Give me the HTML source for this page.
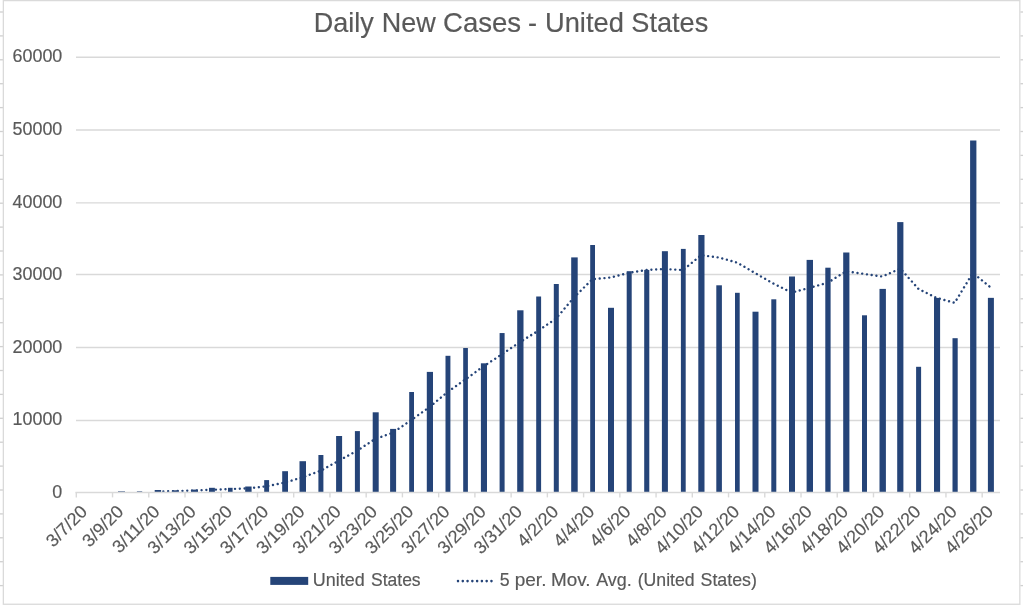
<!DOCTYPE html>
<html lang="en"><head><meta charset="utf-8"><title>Daily New Cases - United States</title>
<style>
html,body{margin:0;padding:0;background:#fff;}
body{width:1023px;height:605px;overflow:hidden;}
svg{display:block;}
text{font-family:"Liberation Sans",sans-serif;fill:#595959;stroke:#595959;stroke-width:0.18px;}
.ax{font-size:17.9px;}
.title{font-size:28px;}
</style></head><body>
<svg width="1023" height="605" viewBox="0 0 1023 605" role="img" aria-label="Daily New Cases - United States">
<rect x="0" y="0" width="1023" height="605" fill="#ffffff"/>
<g fill="#d0d0d0">
<rect x="0" y="11.35" width="3.2" height="1.3"/>
<rect x="1020.3" y="11.35" width="2.7" height="1.3"/>
<rect x="0" y="35.25" width="3.2" height="1.3"/>
<rect x="1020.3" y="35.25" width="2.7" height="1.3"/>
<rect x="0" y="59.15" width="3.2" height="1.3"/>
<rect x="1020.3" y="59.15" width="2.7" height="1.3"/>
<rect x="0" y="83.05" width="3.2" height="1.3"/>
<rect x="1020.3" y="83.05" width="2.7" height="1.3"/>
<rect x="0" y="106.95" width="3.2" height="1.3"/>
<rect x="1020.3" y="106.95" width="2.7" height="1.3"/>
<rect x="0" y="130.85" width="3.2" height="1.3"/>
<rect x="1020.3" y="130.85" width="2.7" height="1.3"/>
<rect x="0" y="154.75" width="3.2" height="1.3"/>
<rect x="1020.3" y="154.75" width="2.7" height="1.3"/>
<rect x="0" y="178.65" width="3.2" height="1.3"/>
<rect x="1020.3" y="178.65" width="2.7" height="1.3"/>
<rect x="0" y="202.55" width="3.2" height="1.3"/>
<rect x="1020.3" y="202.55" width="2.7" height="1.3"/>
<rect x="0" y="226.45" width="3.2" height="1.3"/>
<rect x="1020.3" y="226.45" width="2.7" height="1.3"/>
<rect x="0" y="250.35" width="3.2" height="1.3"/>
<rect x="1020.3" y="250.35" width="2.7" height="1.3"/>
<rect x="0" y="274.25" width="3.2" height="1.3"/>
<rect x="1020.3" y="274.25" width="2.7" height="1.3"/>
<rect x="0" y="298.15" width="3.2" height="1.3"/>
<rect x="1020.3" y="298.15" width="2.7" height="1.3"/>
<rect x="0" y="322.05" width="3.2" height="1.3"/>
<rect x="1020.3" y="322.05" width="2.7" height="1.3"/>
<rect x="0" y="345.95" width="3.2" height="1.3"/>
<rect x="1020.3" y="345.95" width="2.7" height="1.3"/>
<rect x="0" y="369.85" width="3.2" height="1.3"/>
<rect x="1020.3" y="369.85" width="2.7" height="1.3"/>
<rect x="0" y="393.75" width="3.2" height="1.3"/>
<rect x="1020.3" y="393.75" width="2.7" height="1.3"/>
<rect x="0" y="417.65" width="3.2" height="1.3"/>
<rect x="1020.3" y="417.65" width="2.7" height="1.3"/>
<rect x="0" y="441.55" width="3.2" height="1.3"/>
<rect x="1020.3" y="441.55" width="2.7" height="1.3"/>
<rect x="0" y="465.45" width="3.2" height="1.3"/>
<rect x="1020.3" y="465.45" width="2.7" height="1.3"/>
<rect x="0" y="489.35" width="3.2" height="1.3"/>
<rect x="1020.3" y="489.35" width="2.7" height="1.3"/>
<rect x="0" y="513.25" width="3.2" height="1.3"/>
<rect x="1020.3" y="513.25" width="2.7" height="1.3"/>
<rect x="0" y="537.15" width="3.2" height="1.3"/>
<rect x="1020.3" y="537.15" width="2.7" height="1.3"/>
<rect x="0" y="561.05" width="3.2" height="1.3"/>
<rect x="1020.3" y="561.05" width="2.7" height="1.3"/>
<rect x="0" y="584.95" width="3.2" height="1.3"/>
<rect x="1020.3" y="584.95" width="2.7" height="1.3"/>
<rect x="0" y="608.85" width="3.2" height="1.3"/>
<rect x="1020.3" y="608.85" width="2.7" height="1.3"/>
</g>
<rect x="3.35" y="0.6" width="1016.5" height="603.65" fill="#ffffff" stroke="#dadada" stroke-width="1.3"/>
<g stroke="#d9d9d9" stroke-width="1.4">
<line x1="76.0" y1="420.50" x2="1000.0" y2="420.50"/>
<line x1="76.0" y1="347.50" x2="1000.0" y2="347.50"/>
<line x1="76.0" y1="274.50" x2="1000.0" y2="274.50"/>
<line x1="76.0" y1="202.90" x2="1000.0" y2="202.90"/>
<line x1="76.0" y1="130.00" x2="1000.0" y2="130.00"/>
<line x1="76.0" y1="57.30" x2="1000.0" y2="57.30"/>
</g>
<g fill="#254478">
<rect x="118.00" y="491.40" width="7.00" height="0.90"/>
<rect x="136.90" y="491.40" width="5.30" height="0.90"/>
<rect x="154.70" y="490.00" width="6.40" height="2.30"/>
<rect x="172.00" y="490.30" width="6.70" height="2.00"/>
<rect x="191.00" y="489.60" width="7.00" height="2.70"/>
<rect x="209.00" y="487.80" width="5.90" height="4.50"/>
<rect x="228.00" y="487.80" width="4.60" height="4.50"/>
<rect x="245.20" y="486.50" width="6.40" height="5.80"/>
<rect x="264.20" y="480.10" width="4.90" height="12.20"/>
<rect x="282.20" y="471.20" width="5.80" height="21.10"/>
<rect x="299.50" y="461.20" width="6.50" height="31.10"/>
<rect x="318.40" y="455.00" width="5.00" height="37.30"/>
<rect x="336.10" y="436.00" width="6.00" height="56.30"/>
<rect x="354.90" y="431.10" width="5.00" height="61.20"/>
<rect x="372.70" y="412.30" width="6.00" height="80.00"/>
<rect x="390.10" y="428.90" width="6.00" height="63.40"/>
<rect x="409.20" y="392.00" width="4.80" height="100.30"/>
<rect x="426.80" y="371.90" width="6.20" height="120.40"/>
<rect x="445.50" y="355.80" width="4.90" height="136.50"/>
<rect x="463.20" y="348.00" width="4.70" height="144.30"/>
<rect x="480.90" y="363.30" width="6.10" height="129.00"/>
<rect x="499.60" y="333.05" width="5.00" height="159.25"/>
<rect x="517.20" y="310.30" width="6.30" height="182.00"/>
<rect x="536.20" y="296.50" width="4.90" height="195.80"/>
<rect x="553.80" y="284.00" width="5.00" height="208.30"/>
<rect x="571.20" y="257.40" width="6.50" height="234.90"/>
<rect x="590.20" y="245.00" width="4.80" height="247.30"/>
<rect x="608.00" y="307.80" width="6.00" height="184.50"/>
<rect x="626.70" y="271.20" width="5.00" height="221.10"/>
<rect x="644.20" y="269.90" width="5.10" height="222.40"/>
<rect x="661.90" y="251.20" width="6.00" height="241.10"/>
<rect x="680.90" y="248.90" width="4.80" height="243.40"/>
<rect x="698.30" y="235.00" width="6.20" height="257.30"/>
<rect x="716.30" y="285.30" width="5.60" height="207.00"/>
<rect x="735.00" y="292.80" width="4.70" height="199.50"/>
<rect x="752.50" y="311.70" width="6.00" height="180.60"/>
<rect x="771.30" y="299.30" width="5.00" height="193.00"/>
<rect x="789.00" y="276.50" width="6.00" height="215.80"/>
<rect x="806.60" y="259.90" width="6.40" height="232.40"/>
<rect x="825.30" y="267.70" width="5.30" height="224.60"/>
<rect x="843.20" y="252.50" width="6.20" height="239.80"/>
<rect x="862.00" y="315.30" width="5.00" height="177.00"/>
<rect x="879.50" y="288.90" width="6.40" height="203.40"/>
<rect x="897.20" y="222.10" width="6.20" height="270.20"/>
<rect x="916.10" y="366.80" width="5.00" height="125.50"/>
<rect x="934.00" y="297.90" width="6.10" height="194.40"/>
<rect x="952.50" y="338.20" width="5.20" height="154.10"/>
<rect x="970.10" y="140.50" width="6.30" height="351.80"/>
<rect x="987.90" y="297.85" width="6.00" height="194.45"/>
</g>
<path d="M157.53 491.56 L175.65 491.12 L193.76 490.54 L211.88 489.82 L230.00 489.10 L248.12 488.40 L266.24 486.36 L284.35 482.68 L302.47 477.36 L320.59 470.80 L338.71 460.70 L356.82 450.90 L374.94 439.12 L393.06 432.66 L411.18 420.06 L429.29 407.24 L447.41 392.18 L465.53 379.32 L483.65 366.20 L501.76 354.41 L519.88 342.09 L538.00 330.93 L556.12 318.43 L574.24 297.15 L592.35 279.24 L610.47 277.54 L628.59 272.88 L646.71 269.96 L664.82 269.02 L682.94 270.10 L701.06 255.24 L719.18 257.56 L737.29 262.64 L755.41 273.24 L773.53 283.62 L791.65 292.52 L809.76 287.79 L827.88 282.62 L846.00 271.33 L864.12 273.93 L882.24 276.56 L900.35 268.60 L918.47 288.92 L936.59 297.90 L954.71 302.78 L972.82 272.90 L990.94 287.65" fill="none" stroke="#254478" stroke-width="2.4" stroke-linecap="round" stroke-linejoin="round" stroke-dasharray="0.01 4.77" stroke-dashoffset="3.73"/>
<g stroke="#d9d9d9" stroke-width="1.4">
<line x1="75.4" y1="492.45" x2="1000.0" y2="492.45"/>
<line x1="76.30" y1="492.4" x2="76.30" y2="497.4"/>
<line x1="112.54" y1="492.4" x2="112.54" y2="497.4"/>
<line x1="148.77" y1="492.4" x2="148.77" y2="497.4"/>
<line x1="185.01" y1="492.4" x2="185.01" y2="497.4"/>
<line x1="221.24" y1="492.4" x2="221.24" y2="497.4"/>
<line x1="257.48" y1="492.4" x2="257.48" y2="497.4"/>
<line x1="293.71" y1="492.4" x2="293.71" y2="497.4"/>
<line x1="329.95" y1="492.4" x2="329.95" y2="497.4"/>
<line x1="366.18" y1="492.4" x2="366.18" y2="497.4"/>
<line x1="402.42" y1="492.4" x2="402.42" y2="497.4"/>
<line x1="438.65" y1="492.4" x2="438.65" y2="497.4"/>
<line x1="474.89" y1="492.4" x2="474.89" y2="497.4"/>
<line x1="511.12" y1="492.4" x2="511.12" y2="497.4"/>
<line x1="547.36" y1="492.4" x2="547.36" y2="497.4"/>
<line x1="583.59" y1="492.4" x2="583.59" y2="497.4"/>
<line x1="619.83" y1="492.4" x2="619.83" y2="497.4"/>
<line x1="656.06" y1="492.4" x2="656.06" y2="497.4"/>
<line x1="692.30" y1="492.4" x2="692.30" y2="497.4"/>
<line x1="728.54" y1="492.4" x2="728.54" y2="497.4"/>
<line x1="764.77" y1="492.4" x2="764.77" y2="497.4"/>
<line x1="801.01" y1="492.4" x2="801.01" y2="497.4"/>
<line x1="837.24" y1="492.4" x2="837.24" y2="497.4"/>
<line x1="873.48" y1="492.4" x2="873.48" y2="497.4"/>
<line x1="909.71" y1="492.4" x2="909.71" y2="497.4"/>
<line x1="945.95" y1="492.4" x2="945.95" y2="497.4"/>
<line x1="982.18" y1="492.4" x2="982.18" y2="497.4"/>
</g>
<g class="ax" text-anchor="end">
<text x="62.3" y="498.30">0</text>
<text x="62.3" y="425.30">10000</text>
<text x="62.3" y="352.80">20000</text>
<text x="62.3" y="279.50">30000</text>
<text x="62.3" y="207.50">40000</text>
<text x="62.3" y="134.95">50000</text>
<text x="62.3" y="62.20">60000</text>
</g>
<g class="ax" text-anchor="end">
<text transform="translate(88.36 512.70) rotate(-45)" x="0" y="0">3/7/20</text>
<text transform="translate(124.59 512.70) rotate(-45)" x="0" y="0">3/9/20</text>
<text transform="translate(160.83 512.70) rotate(-45)" x="0" y="0">3/11/20</text>
<text transform="translate(197.06 512.70) rotate(-45)" x="0" y="0">3/13/20</text>
<text transform="translate(233.30 512.70) rotate(-45)" x="0" y="0">3/15/20</text>
<text transform="translate(269.54 512.70) rotate(-45)" x="0" y="0">3/17/20</text>
<text transform="translate(305.77 512.70) rotate(-45)" x="0" y="0">3/19/20</text>
<text transform="translate(342.01 512.70) rotate(-45)" x="0" y="0">3/21/20</text>
<text transform="translate(378.24 512.70) rotate(-45)" x="0" y="0">3/23/20</text>
<text transform="translate(414.48 512.70) rotate(-45)" x="0" y="0">3/25/20</text>
<text transform="translate(450.71 512.70) rotate(-45)" x="0" y="0">3/27/20</text>
<text transform="translate(486.95 512.70) rotate(-45)" x="0" y="0">3/29/20</text>
<text transform="translate(523.18 512.70) rotate(-45)" x="0" y="0">3/31/20</text>
<text transform="translate(559.42 512.70) rotate(-45)" x="0" y="0">4/2/20</text>
<text transform="translate(595.65 512.70) rotate(-45)" x="0" y="0">4/4/20</text>
<text transform="translate(631.89 512.70) rotate(-45)" x="0" y="0">4/6/20</text>
<text transform="translate(668.12 512.70) rotate(-45)" x="0" y="0">4/8/20</text>
<text transform="translate(704.36 512.70) rotate(-45)" x="0" y="0">4/10/20</text>
<text transform="translate(740.59 512.70) rotate(-45)" x="0" y="0">4/12/20</text>
<text transform="translate(776.83 512.70) rotate(-45)" x="0" y="0">4/14/20</text>
<text transform="translate(813.06 512.70) rotate(-45)" x="0" y="0">4/16/20</text>
<text transform="translate(849.30 512.70) rotate(-45)" x="0" y="0">4/18/20</text>
<text transform="translate(885.54 512.70) rotate(-45)" x="0" y="0">4/20/20</text>
<text transform="translate(921.77 512.70) rotate(-45)" x="0" y="0">4/22/20</text>
<text transform="translate(958.01 512.70) rotate(-45)" x="0" y="0">4/24/20</text>
<text transform="translate(994.24 512.70) rotate(-45)" x="0" y="0">4/26/20</text>
</g>
<text class="title" y="31.9"><tspan x="313.79" textLength="60.01" lengthAdjust="spacingAndGlyphs">Daily</tspan> <tspan x="381.69" textLength="53.98" lengthAdjust="spacingAndGlyphs">New</tspan> <tspan x="443.01" textLength="78.15" lengthAdjust="spacingAndGlyphs">Cases</tspan> <tspan x="527.95" textLength="9.03" lengthAdjust="spacingAndGlyphs">-</tspan> <tspan x="545.00" textLength="78.84" lengthAdjust="spacingAndGlyphs">United</tspan> <tspan x="631.35" textLength="76.90" lengthAdjust="spacingAndGlyphs">States</tspan></text>
<rect x="270.3" y="576.9" width="37.9" height="8" fill="#254478"/>
<text class="ax" y="585.7"><tspan x="312.88" textLength="51.93" lengthAdjust="spacingAndGlyphs">United</tspan> <tspan x="371.00" textLength="49.64" lengthAdjust="spacingAndGlyphs">States</tspan></text>
<line x1="458.0" y1="581.1" x2="492.5" y2="581.1" stroke="#254478" stroke-width="2.55" stroke-linecap="round" stroke-dasharray="0.01 4.77"/>
<text class="ax" y="585.7"><tspan x="499.65" textLength="9.87" lengthAdjust="spacingAndGlyphs">5</tspan> <tspan x="514.71" textLength="31.71" lengthAdjust="spacingAndGlyphs">per.</tspan> <tspan x="551.03" textLength="39.48" lengthAdjust="spacingAndGlyphs">Mov.</tspan> <tspan x="596.20" textLength="35.52" lengthAdjust="spacingAndGlyphs">Avg.</tspan> <tspan x="637.67" textLength="57.02" lengthAdjust="spacingAndGlyphs">(United</tspan> <tspan x="700.54" textLength="56.38" lengthAdjust="spacingAndGlyphs">States)</tspan></text>
</svg>
</body></html>
